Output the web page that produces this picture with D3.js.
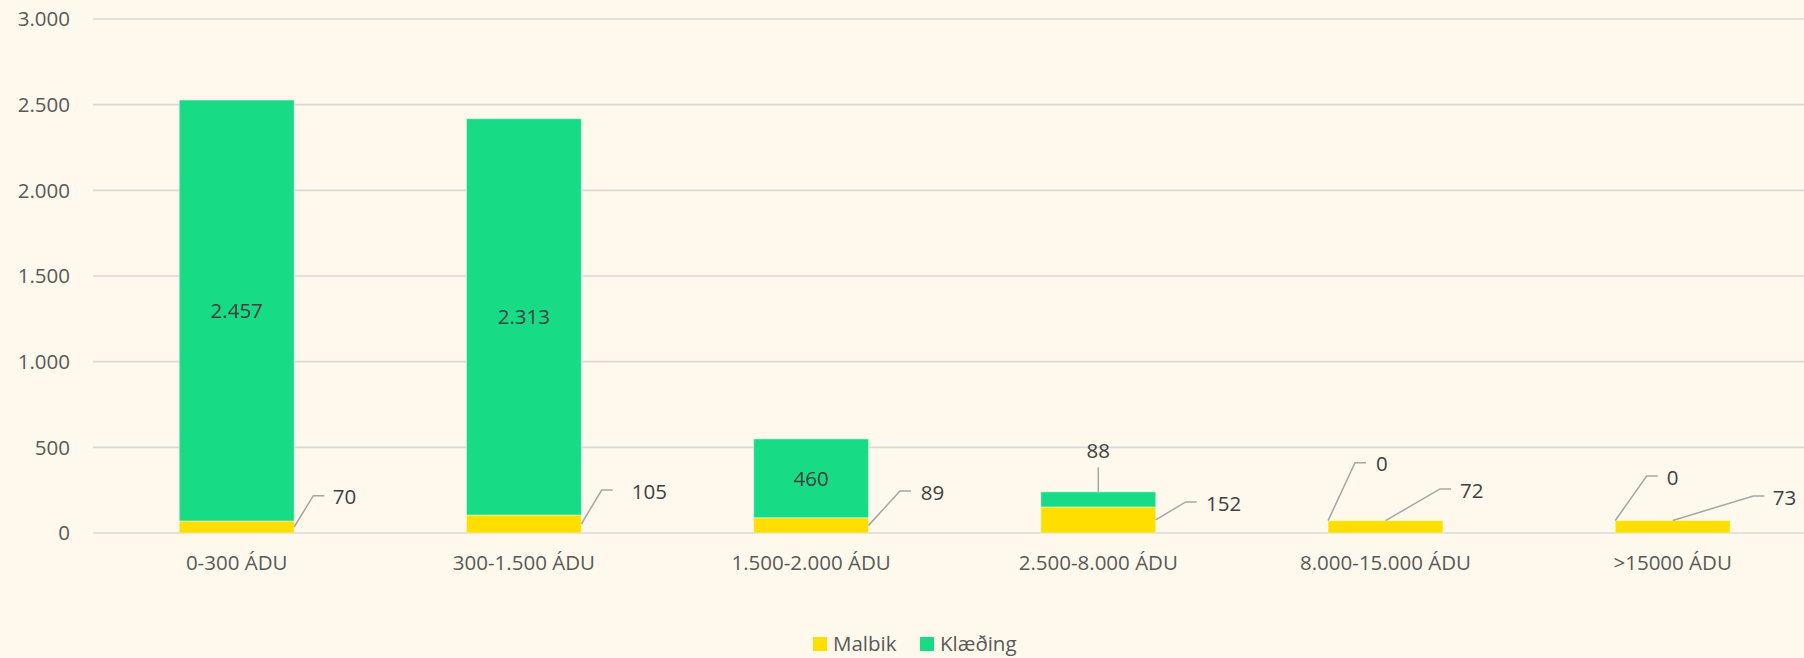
<!DOCTYPE html>
<html>
<head>
<meta charset="utf-8">
<script src="https://cdn.jsdelivr.net/npm/d3@7"></script>
<style>
  html, body { margin: 0; padding: 0; background: #FEF9EC; }
  svg { display: block; }
  text { font-family: "Open Sans", "Noto Sans", sans-serif; }
</style>
</head>
<body>
<svg id="chart" width="1804" height="658"></svg>
<script>
// Road surface lengths by traffic class (ÁDU)
const categories = ["0-300 ÁDU", "300-1.500 ÁDU", "1.500-2.000 ÁDU", "2.500-8.000 ÁDU", "8.000-15.000 ÁDU", ">15000 ÁDU"];
const malbik = [70, 105, 89, 152, 72, 73];
const klaeding = [2457, 2313, 460, 88, 0, 0];
const yTicks = [0, 500, 1000, 1500, 2000, 2500, 3000];
const seriesNames = ["Malbik", "Klæðing"];

// Label placement: [anchor, knee dx from bar centre, knee dy from segment top, text dx from knee]
const malbikLabelLayout = [
  ["side", 76.6, -25.3, 19.4],
  ["side", 77.8, -25, 30],
  ["side", 88.9, -26.8, 20.7],
  ["side", 87.4, -5, 20.3],
  ["top", 54.5, -31.7, 20],
  ["top", 80.6, -24.5, 19.4]
];
const klaedingLabelLayout = [
  ["inside"],
  ["inside"],
  ["inside"],
  ["above", 0, -24.6, -16.6],
  ["left", -30.5, -58, 21],
  ["left", -26, -44.5, 20]
];

const colors = { Malbik: "#FFDE00", "Klæðing": "#17DC85" };
const fmt = v => d3.format(",")(v).replace(/,/g, ".");

const svg = d3.select("#chart");
svg.append("rect").attr("width", 1804).attr("height", 658).attr("fill", "#FEF9EC");

const x = d3.scaleBand().domain(categories).range([93.1, 1816.3]).paddingInner(0.6).paddingOuter(0.3);
const y = d3.scaleLinear().domain([0, 3000]).range([533, 19]);

// gridlines
svg.append("g").selectAll("line").data(yTicks).join("line")
  .attr("x1", 93).attr("x2", 1816)
  .attr("y1", d => y(d)).attr("y2", d => y(d))
  .attr("stroke", "#D9D9D9").attr("stroke-width", 1.6);

// y tick labels
svg.append("g").selectAll("text").data(yTicks).join("text")
  .attr("x", 70).attr("y", d => y(d)).attr("dy", "0.35em")
  .attr("text-anchor", "end").attr("font-size", 20.5).attr("fill", "#595959")
  .text(d => fmt(d));

// category labels
svg.append("g").selectAll("text").data(categories).join("text")
  .attr("x", d => x(d) + x.bandwidth() / 2).attr("y", 563).attr("dy", "0.35em")
  .attr("text-anchor", "middle").attr("font-size", 20.5).attr("fill", "#595959")
  .text(d => d);

// stacked bars
const rows = categories.map((c, i) => ({ cat: c, Malbik: malbik[i], "Klæðing": klaeding[i] }));
const stacked = d3.stack().keys(seriesNames)(rows);

svg.append("g").selectAll("g").data(stacked).join("g")
  .attr("fill", d => colors[d.key])
  .selectAll("rect").data(d => d).join("rect")
  .attr("x", d => x(d.data.cat))
  .attr("width", x.bandwidth())
  .attr("y", d => y(d[1]))
  .attr("height", d => y(d[0]) - y(d[1]))
  .attr("stroke", "rgba(255,255,255,0.45)")
  .attr("stroke-width", d => (y(d[0]) - y(d[1])) > 0 ? 1 : 0);

const labels = svg.append("g");
const leaderColor = "#A6A6A6";
const labelColor = "#404040";

function leader(points) {
  labels.append("path")
    .attr("d", d3.line()(points))
    .attr("fill", "none").attr("stroke", leaderColor).attr("stroke-width", 1.5);
}
function label(tx, ty, txt, anchor) {
  labels.append("text")
    .attr("x", tx).attr("y", ty).attr("dy", "0.35em")
    .attr("text-anchor", anchor || "start")
    .attr("font-size", 20.5).attr("fill", labelColor)
    .text(txt);
}

// Malbik labels
stacked[0].forEach((d, i) => {
  const [mode, kdx, kdy, tdx] = malbikLabelLayout[i];
  const cx = x(d.data.cat) + x.bandwidth() / 2;
  const top = y(d[1]);
  const bottom = y(d[0]);
  const knee = [cx + kdx, top + kdy];
  const start = mode === "side"
    ? [x(d.data.cat) + x.bandwidth(), (top + bottom) / 2]
    : [cx, top];
  leader([start, knee, [knee[0] + 11, knee[1]]]);
  label(knee[0] + tdx, knee[1] + 1.5, fmt(malbik[i]));
});

// Klæðing labels
stacked[1].forEach((d, i) => {
  const lay = klaedingLabelLayout[i];
  const mode = lay[0];
  const cx = x(d.data.cat) + x.bandwidth() / 2;
  const top = y(d[1]);
  const bottom = y(d[0]);
  if (mode === "inside") {
    label(cx, (top + bottom) / 2, fmt(klaeding[i]), "middle");
  } else if (mode === "above") {
    const end = [cx, top + lay[2]];
    leader([[cx, top], end]);
    label(cx, end[1] + lay[3], fmt(klaeding[i]), "middle");
  } else {
    const knee = [cx + lay[1], top + lay[2]];
    leader([[x(d.data.cat), top], knee, [knee[0] + 11, knee[1]]]);
    label(knee[0] + lay[3], knee[1] + 1.5, fmt(klaeding[i]));
  }
});

// legend
const legend = svg.append("g");
const legendX = [813, 920];
seriesNames.forEach((name, i) => {
  legend.append("rect").attr("x", legendX[i]).attr("y", 637).attr("width", 14).attr("height", 14)
    .attr("fill", colors[name]);
  legend.append("text").attr("x", legendX[i] + 20).attr("y", 643.5).attr("dy", "0.35em")
    .attr("font-size", 20.5).attr("fill", "#595959").text(name);
});
</script>
</body>
</html>
